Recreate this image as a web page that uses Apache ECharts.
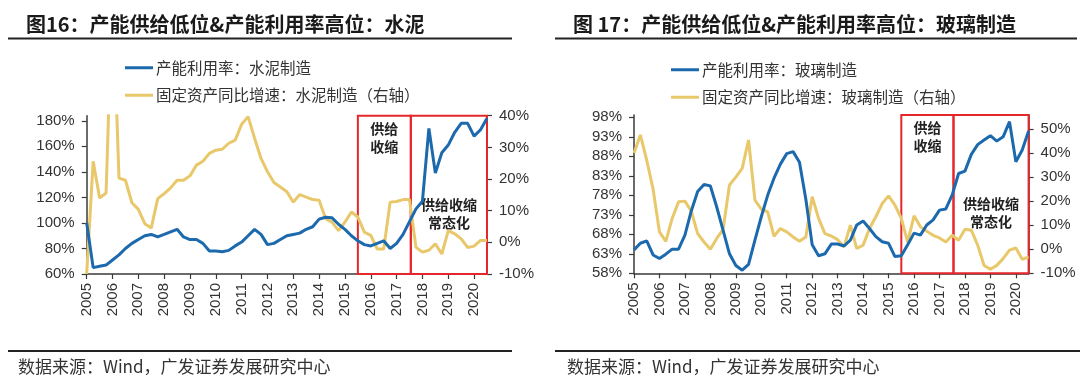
<!DOCTYPE html>
<html>
<head>
<meta charset="utf-8">
<script src="https://cdn.jsdelivr.net/npm/echarts@6/dist/echarts.min.js"></script>
<style>
html,body{margin:0;padding:0;background:#fff;}
#wrap{width:1080px;height:390px;position:relative;overflow:hidden;}
#c1,#c2{position:absolute;top:0;width:540px;height:390px;}
#c1{left:0;}#c2{left:540px;}
</style>
</head>
<body>
<div id="wrap"><div id="c1"></div><div id="c2"></div></div>
<script>
// ---------- DATA ----------
const quarters = [
  2005,2005.25,2005.5,2005.75, 2006,2006.25,2006.5,2006.75, 2007,2007.25,2007.5,2007.75,
  2008,2008.25,2008.5,2008.75, 2009,2009.25,2009.5,2009.75, 2010,2010.25,2010.5,2010.75,
  2011,2011.25,2011.5,2011.75, 2012,2012.25,2012.5,2012.75, 2013,2013.25,2013.5,2013.75,
  2014,2014.25,2014.5,2014.75, 2015,2015.25,2015.5,2015.75, 2016,2016.25,2016.5,2016.75,
  2017,2017.25,2017.5,2017.75, 2018,2018.25,2018.5,2018.75, 2019,2019.25,2019.5,2019.75,
  2020,2020.25,2020.5
];
const yearTicks = [2005,2006,2007,2008,2009,2010,2011,2012,2013,2014,2015,2016,2017,2018,2019,2020];

// Chart 16: cement
const cementTitle = '图16：产能供给低位&产能利用率高位：水泥';
const cementUtilName = '产能利用率：水泥制造';
const cementFaiName = '固定资产同比增速：水泥制造（右轴）';
const cementUtil = [
  100,65,66,67, 71,75,80,84, 87,90,91,89, 91,93,95,89, 87,87,84,78, 78,77.5,78.5,82,
  85,90,95,91, 83,84,87,90, 91,92,95,97, 103,104.5,104,99, 95,90,86,83, 82,84,86,80,
  84,91,101,111, 117,174,139,155, 161,171,178,178, 168,173,182
];
const cementFai = [
  -10,25.6,14,15.6, 80,20.3,19.6,12.5, 10.4,5.9,4.5,13.8, 15.4,17.2,19.6,19.6, 21,24.4,25.6,28.1,
  29.1,29.4,31.3,32.3, 37.3,39.7,32.9,26.5, 22.3,18.9,17.5,16, 12.7,15.1,14.3,13.5,
  13.3,7.5,6.4,3.7, 6.4,9.6,8,3.2, 2.2,-2.1,-2.1,12.7, 12.9,13.5,13.5,-1.6,
  -3.1,-2.5,-0.5,-3.7, 3.7,2.7,1.1,-1.6, -1.2,0.6,0.6
];
const cementLeftTicks = [60,80,100,120,140,160,180];
const cementRightTicks = [-10,0,10,20,30,40];

// Chart 17: glass
const glassTitle = '图 17：产能供给低位&产能利用率高位：玻璃制造';
const glassUtilName = '产能利用率：玻璃制造';
const glassFaiName = '固定资产同比增速：玻璃制造（右轴）';
const glassUtil = [
  64,65.7,66.3,62.7, 61.8,62.9,64.2,64.2, 67.8,74,79,80.8, 80.4,75,69,63, 60,58.8,60.3,66.5,
  72.5,78,82.4,86, 88.7,89.2,86.5,77, 65.3,62.5,63,65.5, 65.5,65,66.5,70.4,
  71.4,69.5,67.4,66.1, 65.7,62.3,62.5,65.3, 68.3,67.8,70.4,71.7, 74.2,74.5,78.1,83.6,
  84.2,88.5,91,92.2, 93.3,91.9,93,96.9, 86.6,89.6,94.5
];
const glassFai = [
  40,47.5,37,25, 7.2,3.3,12.8,19.7, 20,15.8,6.5,3, 0,4.5,8.3,26.7, 30,33.6,45.4,20.4,
  16.7,15.5,5.4,8.6, 7.2,5.1,3.3,5.1, 21.8,12.8,6.5,5.5, 4,1,10,0.3,
  1.7,8.6,13.5,19, 22.2,18.3,12.8,3, 13.9,9.3,7.5,5.8, 4.7,3,5.8,3.75,
  8.3,7.9,1.7,-6.7, -8.3,-6.7,-3.9,-0.4, 0.5,-4.2,-3.2
];
const glassLeftTicks = [58,63,68,73,78,83,88,93,98];
const glassRightTicks = [-10,0,10,20,30,40,50];

// annotation periods
const periodShrink = [2015.5, 2017.55];
const periodNormal = [2017.55, 2020.5];
const shrinkLabel = '供给\n收缩';
const normalLabel = '供给收缩\n常态化';
const sourceText = '数据来源：Wind，广发证券发展研究中心';

// ---------- BUILD ----------
const BLUE = '#1c6aad', YELLOW = '#e8c86a', RED = '#e5262b', AX = '#3a3a3a';
const LATIN = '"Liberation Sans", Arial, sans-serif';
const CJK = '"Noto Sans CJK SC", sans-serif';

function pairs(xs, ys){ return xs.map((x,i)=>[x, ys[i]]); }

function build(cfg){
  const axisCommon = {
    axisLine:{show:true, lineStyle:{color:AX, width:1.5}},
    splitLine:{show:false},
    axisTick:{show:true, inside:false, length:5, lineStyle:{color:AX, width:1.2}},
    axisLabel:{fontFamily:LATIN, fontSize:15, color:'#333', margin:12, formatter: v => v + '%'}
  };
  return {
    animation:false,
    backgroundColor:'#fff',
    title:{text:cfg.title, left:cfg.titleX, top:9,
      textStyle:{fontFamily:CJK, fontSize:20, fontWeight:'bold', color:'#1a1a1a'}},
    legend:{orient:'vertical', left:cfg.legendX, top:cfg.legendY, itemGap:12,
      itemWidth:28, itemHeight:3, icon:'rect',
      data:[cfg.utilName, cfg.faiName],
      textStyle:{fontFamily:CJK, fontSize:15.5, color:'#333', padding:[0,0,0,-2]}},
    grid:{left:cfg.gridLeft, width:cfg.gridWidth, top:cfg.gridTop, height:cfg.gridHeight},
    xAxis:{type:'value', min:quarters[0], max:quarters[quarters.length-1],
      axisLine:{show:true, onZero:false, lineStyle:{color:AX, width:1.5}},
      splitLine:{show:false},
      axisTick:{show:true, length:5, customValues:yearTicks, lineStyle:{color:AX, width:1.2}},
      axisLabel:{customValues:yearTicks, rotate:90, margin:9, fontFamily:LATIN, fontSize:15,
        color:'#333', formatter: v => String(Math.round(v))}},
    yAxis:[
      Object.assign({}, axisCommon, {type:'value', position:'left', min:cfg.leftMin, max:cfg.leftMax,
        axisLabel:Object.assign({}, axisCommon.axisLabel, {customValues:cfg.leftTicks}),
        axisTick:Object.assign({}, axisCommon.axisTick, {customValues:cfg.leftTicks})}),
      Object.assign({}, axisCommon, {type:'value', position:'right', min:cfg.rightMin, max:cfg.rightMax,
        axisLabel:Object.assign({}, axisCommon.axisLabel, {customValues:cfg.rightTicks}),
        axisTick:Object.assign({}, axisCommon.axisTick, {customValues:cfg.rightTicks})})
    ],
    series:[
      {name:cfg.faiName, type:'line', yAxisIndex:1, data:pairs(quarters, cfg.fai),
        showSymbol:false, symbol:'none', lineStyle:{color:YELLOW, width:3}, itemStyle:{color:YELLOW},
        clip:true, z:2},
      {name:cfg.utilName, type:'line', yAxisIndex:0, data:pairs(quarters, cfg.util),
        showSymbol:false, symbol:'none', lineStyle:{color:BLUE, width:3}, itemStyle:{color:BLUE},
        clip:true, z:3,
        markArea:{silent:true,
          itemStyle:{color:'rgba(0,0,0,0)', borderColor:RED, borderWidth:2},
          label:{show:true, fontFamily:CJK, fontSize:14, fontWeight:'bold', color:'#222', lineHeight:18, align:'center'},
          data:[
            [{xAxis:periodShrink[0], name:shrinkLabel, label:{position:'insideTop', distance:5}}, {xAxis:periodShrink[1]}],
            [{xAxis:periodNormal[0], name:normalLabel, label:{position:'inside', offset:[0,19]}}, {xAxis:periodNormal[1]}]
          ]}}
    ],
    graphic:[
      {type:'line', shape:{x1:cfg.ruleX1, y1:38.5, x2:cfg.ruleX2, y2:38.5}, style:{stroke:'#222', lineWidth:2}},
      {type:'line', shape:{x1:cfg.ruleX1, y1:351, x2:cfg.ruleX2b, y2:351}, style:{stroke:'#222', lineWidth:2}},
      {type:'text', left:cfg.srcX, top:358, style:{text:sourceText, fontFamily:CJK, fontSize:17, fill:'#333'}}
    ]
  };
}

const c1 = echarts.init(document.getElementById('c1'), null, {renderer:'canvas'});
c1.setOption(build({
  title:cementTitle, titleX:21, legendX:120, legendY:55,
  utilName:cementUtilName, faiName:cementFaiName, util:cementUtil, fai:cementFai,
  gridLeft:86.7, gridWidth:400.3, gridTop:115.7, gridHeight:158.3,
  leftMin:60, leftMax:184, leftTicks:cementLeftTicks,
  rightMin:-10, rightMax:40, rightTicks:cementRightTicks,
  ruleX1:8, ruleX2:512, ruleX2b:512, srcX:18
}));

const c2 = echarts.init(document.getElementById('c2'), null, {renderer:'canvas'});
c2.setOption(build({
  title:glassTitle, titleX:28, legendX:126, legendY:57,
  utilName:glassUtilName, faiName:glassFaiName, util:glassUtil, fai:glassFai,
  gridLeft:94, gridWidth:394.6, gridTop:115, gridHeight:158.3,
  leftMin:58, leftMax:98.6, leftTicks:glassLeftTicks,
  rightMin:-10, rightMax:55.8, rightTicks:glassRightTicks,
  ruleX1:15, ruleX2:537, ruleX2b:540, srcX:27
}));
</script>
</body>
</html>
